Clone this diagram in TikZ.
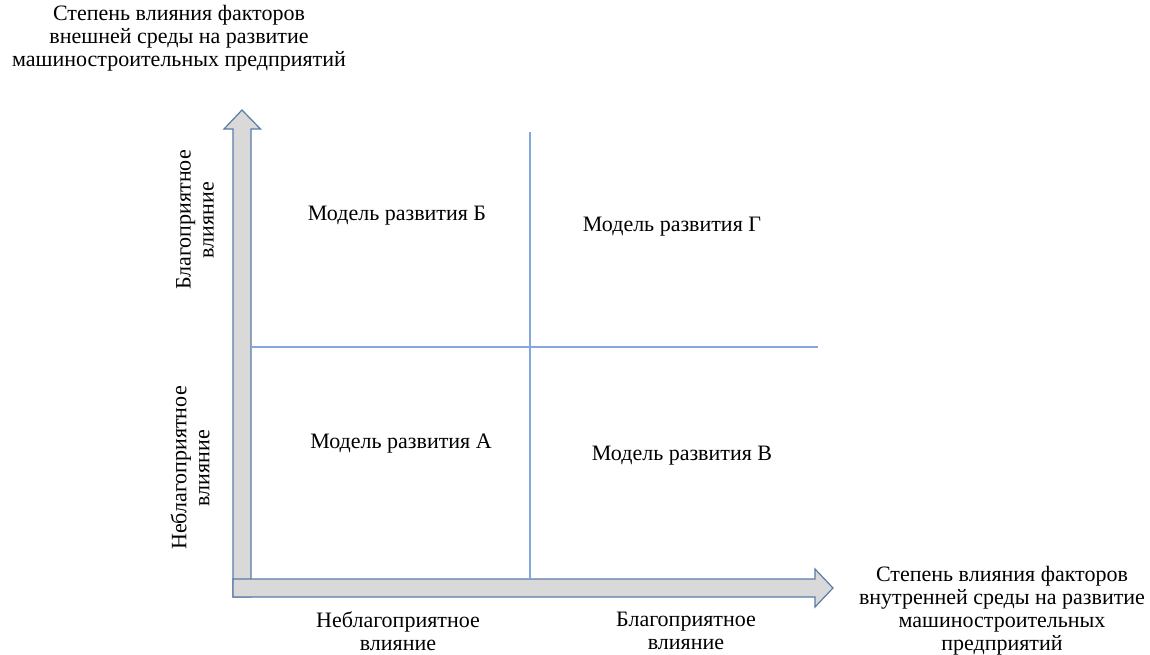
\documentclass[tikz,border=0pt]{standalone}
\usepackage{fontspec}
\setmainfont{Liberation Serif}
\definecolor{arrowfill}{HTML}{D9D9D9}
\definecolor{arrowline}{HTML}{5B7BA6}
\definecolor{gridline}{HTML}{84A8DE}
\begin{document}
\begin{tikzpicture}[x=1pt,y=-1pt,
  lbl/.style={font=\fontsize{22}{23}\selectfont, align=center, inner sep=0pt},
  bigarrow/.style={fill=arrowfill, draw=arrowline, line width=1.2pt, line join=miter},
  divider/.style={draw=gridline, line width=1.2pt}]
\useasboundingbox (0,0) rectangle (1150,654);
% axes as block arrows
\draw[bigarrow] (233,597) -- (233,129) -- (224,129) -- (242,110) -- (260.5,129) -- (251,129) -- (251,597) -- cycle;
\draw[bigarrow] (233,579) -- (815,579) -- (815,569) -- (833,588) -- (815,607) -- (815,597) -- (233,597) -- cycle;
% dividers
\coordinate (vtop) at (530,132);
\coordinate (vbot) at (530,579);
\coordinate (hleft) at (251,347);
\coordinate (hright) at (818,347);
\draw[divider] (vtop) -- (vbot);
\draw[divider] (hleft) -- (hright);
% axis titles
\node[lbl] (ytitle) at (179,38) {Степень влияния факторов\\внешней среды на развитие\\машиностроительных предприятий};
\node[lbl] (xtitle) at (1002,611) {Степень влияния факторов\\внутренней среды на развитие\\машиностроительных\\предприятий};
% y-axis labels
\node[lbl, rotate=90] (yfav) at (195,220) {Благоприятное\\влияние};
\node[lbl, rotate=90] (yunfav) at (190,468) {Неблагоприятное\\влияние};
% x-axis labels
\node[lbl] (xunfav) at (398,631) {Неблагоприятное\\влияние};
\node[lbl] (xfav) at (686,631) {Благоприятное\\влияние};
% quadrants
\node[lbl] (qB) at (397,216) {Модель развития Б};
\node[lbl] (qG) at (672,227) {Модель развития Г};
\node[lbl] (qA) at (401,444) {Модель развития А};
\node[lbl] (qV) at (682,456) {Модель развития В};
\end{tikzpicture}
\end{document}
